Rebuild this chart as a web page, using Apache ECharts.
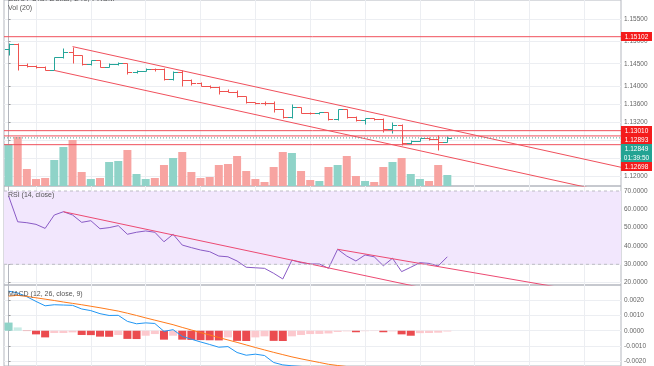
<!DOCTYPE html>
<html><head><meta charset="utf-8">
<script src="https://cdn.jsdelivr.net/npm/echarts@6/dist/echarts.min.js"></script>
<style>html,body{margin:0;padding:0;background:#fff}#c{width:654px;height:366px}</style>
</head><body><div id="c"></div>
<script>
// ---------- data ----------
// OHLC per 4h bar: [open, high, low, close]
const ohlc = [
 [1.14837,1.14954,1.14704,1.14947],[1.14947,1.14954,1.14366,1.14477],[1.14477,1.14506,1.14417,1.14450],
 [1.14450,1.14472,1.14406,1.14424],[1.14424,1.14450,1.14351,1.14366],[1.14366,1.14660,1.14351,1.14660],
 [1.14660,1.14844,1.14638,1.14755],[1.14755,1.14881,1.14512,1.14698],[1.14698,1.14704,1.14483,1.14499],
 [1.14499,1.14587,1.14483,1.14587],[1.14587,1.14594,1.14424,1.14424],[1.14424,1.14512,1.14417,1.14499],
 [1.14499,1.14539,1.14461,1.14506],[1.14506,1.14512,1.14269,1.14313],[1.14313,1.14362,1.14285,1.14344],
 [1.14344,1.14402,1.14329,1.14388],[1.14388,1.14402,1.14329,1.14375],[1.14375,1.14406,1.14130,1.14152],
 [1.14152,1.14329,1.14130,1.14307],[1.14307,1.14366,1.14014,1.14145],[1.14145,1.14163,1.14020,1.14064],
 [1.14064,1.14086,1.13998,1.14014],[1.14014,1.14030,1.13964,1.13982],[1.13982,1.13998,1.13836,1.13887],
 [1.13887,1.13931,1.13865,1.13880],[1.13880,1.13920,1.13761,1.13776],[1.13776,1.13787,1.13615,1.13637],
 [1.13637,1.13655,1.13600,1.13622],[1.13622,1.13666,1.13578,1.13615],[1.13615,1.13673,1.13430,1.13483],
 [1.13483,1.13490,1.13284,1.13306],[1.13306,1.13593,1.13284,1.13527],[1.13527,1.13533,1.13395,1.13408],
 [1.13408,1.13434,1.13379,1.13395],[1.13395,1.13434,1.13379,1.13417],[1.13417,1.13430,1.13246,1.13262],
 [1.13262,1.13483,1.13246,1.13483],[1.13483,1.13500,1.13290,1.13319],[1.13319,1.13334,1.13224,1.13246],
 [1.13246,1.13290,1.13158,1.13284],[1.13284,1.13301,1.13246,1.13279],[1.13279,1.13290,1.12988,1.13041],
 [1.13041,1.13209,1.12966,1.13136],[1.13136,1.13158,1.12694,1.12732],[1.12732,1.12804,1.12705,1.12789],
 [1.12789,1.12856,1.12771,1.12842],[1.12842,1.12860,1.12804,1.12833],[1.12833,1.12915,1.12584,1.12767],
 [1.12767,1.12882,1.12756,1.12849]
];
const volume = [42,49,17,7,8,26,39,46,14,7,8,24,25,36,12,7,8,21,28,34,14,8,9,21,22,30,15,7,4,19,34,33,15,6,5,19,21,30,10,5,4,19,24,28,12,7,5,21,11];
const rsi = [67.3,53.2,52.7,51.8,49.6,56.9,58.7,56.9,52.9,53.8,49.4,50.0,51.1,46.4,47.5,48.2,47.5,42.3,46.4,40.5,39.1,37.8,36.9,34.5,34.1,31.8,28.4,28.1,27.8,25.1,22.0,32.3,30.9,30.2,30.2,27.8,38.2,34.5,31.8,35.1,34.1,29.2,33.3,26.0,28.4,30.9,30.5,29.1,34.1];
const macdLine = [0.00262,0.00250,0.00225,0.00194,0.00165,0.00172,0.00170,0.00168,0.00144,0.00133,0.00113,0.00101,0.00102,0.00062,0.00046,0.00052,0.00048,-0.00004,0.00007,-0.00037,-0.00056,-0.00074,-0.00091,-0.00109,-0.00105,-0.00144,-0.00162,-0.00155,-0.00164,-0.00210,-0.00226,-0.00232,-0.00236,-0.00240,-0.00244,-0.00250,-0.00248,-0.00251,-0.00263,-0.00261,-0.00264,-0.00276,-0.00273,-0.00297,-0.00311,-0.00298,-0.00300,-0.00301,-0.00293];
const signalLine = [0.00229,0.00234,0.00227,0.00218,0.00209,0.00200,0.00190,0.00181,0.00172,0.00162,0.00152,0.00141,0.00130,0.00116,0.00101,0.00085,0.00070,0.00055,0.00040,0.00022,0.00005,-0.00012,-0.00028,-0.00045,-0.00061,-0.00077,-0.00094,-0.00111,-0.00127,-0.00143,-0.00158,-0.00173,-0.00186,-0.00198,-0.00210,-0.00222,-0.00230,-0.00237,-0.00243,-0.00248,-0.00252,-0.00256,-0.00259,-0.00263,-0.00268,-0.00272,-0.00275,-0.00277,-0.00278];
const macdHist = [0.00054,0.00022,-0.00002,-0.00024,-0.00044,-0.00015,-0.00015,-0.00011,-0.00028,-0.00029,-0.00039,-0.00040,-0.00028,-0.00054,-0.00055,-0.00033,-0.00022,-0.00059,-0.00033,-0.00059,-0.00061,-0.00062,-0.00063,-0.00064,-0.00044,-0.00067,-0.00068,-0.00044,-0.00037,-0.00067,-0.00068,-0.00037,-0.00028,-0.00022,-0.00021,-0.00018,-0.00008,-0.00004,-0.00010,-0.00003,-0.00002,-0.00010,-0.00004,-0.00024,-0.00033,-0.00016,-0.00015,-0.00013,-0.00005];

const priceTicks = [1.155,1.150,1.145,1.140,1.136,1.132,1.128,1.124,1.120];
const rsiTicks = [20,30,40,50,60,70];
const macdTicks = [-0.002,-0.001,0,0.001,0.002];
const timeGrid = [3,9,15,21,27,33,39,45,51,57,63];

// drawings
const upperChannel = [[7,1.14881],[67,1.12195]];
const lowerChannel = [[5,1.14351],[67,1.11580]];
const rsiTrend1 = [[6,58.7],[67,-5.8]];
const rsiTrend2 = [[36,38.2],[67,11.6]];
const levels = [1.15102,1.13010,1.12893,1.12698];
const lastPrice = 1.12849;
const countdown = '01:39:50';
const titleText = 'Euro / U.S. Dollar, 240, FXCM';

// ---------- styles ----------
const UP='#26a69a', DN='#ef5350', VUP='#8fd3c8', VDN='#f7a4a1';
const TREND='#f0505c', RSITREND='#ec4a72', TAGRED='#f41c1c', TAGTEAL='#23a393';
const GRID='#eceef2', BORDER='#b4b7bf', LBL='#666';
const FONT='"Liberation Sans", Arial, sans-serif';
const X0=-0.5, X1=67;

const chart = echarts.init(document.getElementById('c'), null, {renderer:'canvas'});

function renderOHLC(params, api){
  const i=api.value(0), o=api.value(1), h=api.value(2), l=api.value(3), c=api.value(4);
  const ph=api.coord([i,h]), pl=api.coord([i,l]), po=api.coord([i,o]), pc=api.coord([i,c]);
  const w=api.size([1,0])[0]*0.5;
  const r=v=>Math.round(v)+0.5;
  const x=r(ph[0]);
  const color = c>o?UP:DN;
  const st={stroke:color,lineWidth:1};
  let y1=r(ph[1]), y2=r(pl[1]); if (y2-y1<1) y2=y1+1;
  return {type:'group',children:[
    {type:'line',shape:{x1:x,y1:y1,x2:x,y2:y2},style:st},
    {type:'line',shape:{x1:x-w,y1:r(po[1]),x2:x,y2:r(po[1])},style:st},
    {type:'line',shape:{x1:x,y1:r(pc[1]),x2:x+w,y2:r(pc[1])},style:st}
  ]};
}

const xBase = {type:'value',min:X0,max:X1,axisLabel:{show:false},axisLine:{show:false},
  axisTick:{show:false,customValues:timeGrid},splitLine:{show:true,lineStyle:{color:GRID,width:1}}};
const yLabel = (dec)=>({fontSize:6.5,color:LBL,fontFamily:FONT,margin:3,formatter:v=>Number(v).toFixed(dec)});

// horizontal level lines as line series across the full pane
const hSeries = (v, xi, yi, style)=>({type:'line',xAxisIndex:xi,yAxisIndex:yi,symbol:'none',z:5,silent:true,
  data:[[X0,v],[X1,v]],lineStyle:style});
const levelSeries = levels.map(v=>hSeries(v,0,0,{color:TREND,width:1}));
levelSeries.push(hSeries(lastPrice,0,0,{color:'#4fa39b',width:1,type:[1,2]}));
const rsiBandSeries = [30,70].map(v=>hSeries(v,1,2,{color:'#bdbdc4',width:1,type:[3,3]}));

const option = {
  animation:false,
  backgroundColor:'#fff',
  grid:[
    {left:4,top:-1,width:617,height:187,show:true,borderColor:BORDER,borderWidth:1},
    {left:4,top:186,width:617,height:99,show:true,borderColor:BORDER,borderWidth:1},
    {left:4,top:285,width:617,height:82,show:true,borderColor:BORDER,borderWidth:1}
  ],
  xAxis:[
    Object.assign({gridIndex:0},xBase),
    Object.assign({gridIndex:1},xBase),
    Object.assign({gridIndex:2},xBase)
  ],
  yAxis:[
    {gridIndex:0,type:'value',position:'right',min:1.11778,max:1.15919,
     axisLine:{show:true,lineStyle:{color:BORDER}},
     axisTick:{show:true,length:2,customValues:priceTicks,lineStyle:{color:'#999'}},
     axisLabel:Object.assign({customValues:priceTicks},yLabel(5)),
     splitLine:{show:true,lineStyle:{color:GRID}}},
    {gridIndex:0,type:'value',min:0,max:186,show:false,splitLine:{show:false},axisLine:{show:false}},
    {gridIndex:1,type:'value',position:'right',min:18.71,max:72.73,
     axisLine:{show:true,lineStyle:{color:BORDER}},
     axisTick:{show:true,length:2,customValues:rsiTicks,lineStyle:{color:'#999'}},
     axisLabel:Object.assign({customValues:rsiTicks},yLabel(4)),
     splitLine:{show:true,lineStyle:{color:GRID}}},
    {gridIndex:2,type:'value',position:'right',min:-0.002333,max:0.003026,
     axisLine:{show:true,lineStyle:{color:BORDER}},
     axisTick:{show:true,length:2,customValues:macdTicks,lineStyle:{color:'#999'}},
     axisLabel:Object.assign({customValues:macdTicks},yLabel(4)),
     splitLine:{show:true,lineStyle:{color:GRID}}}
  ],
  series:[
    {type:'bar',name:'Vol',xAxisIndex:0,yAxisIndex:1,barWidth:8,z:1,
     data:volume.map((v,i)=>({value:[i,v],itemStyle:{color:ohlc[i][3]>ohlc[i][0]?VUP:VDN}}))},
    {type:'custom',name:'EURUSD',xAxisIndex:0,yAxisIndex:0,z:4,renderItem:renderOHLC,
     encode:{x:0,y:[1,2,3,4]},data:ohlc.map((d,i)=>[i].concat(d))},
    {type:'line',name:'upper',xAxisIndex:0,yAxisIndex:0,data:upperChannel,symbol:'none',z:5,
     lineStyle:{color:TREND,width:1}},
    {type:'line',name:'lower',xAxisIndex:0,yAxisIndex:0,data:lowerChannel,symbol:'none',z:5,
     lineStyle:{color:TREND,width:1}},
    {type:'line',name:'RSI',xAxisIndex:1,yAxisIndex:2,symbol:'none',z:4,
     data:rsi.map((v,i)=>[i,v]),lineStyle:{color:'#8a5bc6',width:1},
     markArea:{silent:true,itemStyle:{color:'#f2e7fd'},data:[[{yAxis:30},{yAxis:70}]]}},
    {type:'line',name:'rsiT1',xAxisIndex:1,yAxisIndex:2,data:rsiTrend1,symbol:'none',z:5,lineStyle:{color:RSITREND,width:1}},
    {type:'line',name:'rsiT2',xAxisIndex:1,yAxisIndex:2,data:rsiTrend2,symbol:'none',z:5,lineStyle:{color:RSITREND,width:1}},
    {type:'bar',name:'Hist',xAxisIndex:2,yAxisIndex:3,barWidth:8,z:2,
     data:macdHist.map((v,i)=>{
       let col;
       if (v>=0) col=(i===0||v>=macdHist[i-1])?'#8fd3c8':'#c9ece6';
       else col=(i>0&&v<macdHist[i-1])?'#eb4b4f':'#fcc9ce';
       return {value:[i,v],itemStyle:{color:col}};
     })},
    {type:'line',name:'MACD',xAxisIndex:2,yAxisIndex:3,symbol:'none',z:4,
     data:macdLine.map((v,i)=>[i,v]),lineStyle:{color:'#2196f3',width:1}},
    {type:'line',name:'Signal',xAxisIndex:2,yAxisIndex:3,symbol:'none',z:4,
     data:signalLine.map((v,i)=>[i,v]),lineStyle:{color:'#ff7a1a',width:1}}
  ].concat(levelSeries, rsiBandSeries)
};
chart.setOption(option);

// header texts and right-edge price tags (stacked like the platform does)
const g=[];
const txt=(x,y,t,fs)=>({type:'text',z:50,style:{x:x,y:y,text:t,fontSize:fs,fill:'#555',fontFamily:FONT,verticalAlign:'middle'}});
g.push(txt(8,-1.5,titleText,8));
g.push(txt(8,8,'Vol (20)',7));
g.push(txt(8,195,'RSI (14, close)',7));
g.push(txt(8,294.5,'MACD (12, 26, close, 9)',7));

const tags = levels.map(v=>({v:v,text:v.toFixed(5),bg:TAGRED}));
tags.push({v:lastPrice,text:lastPrice.toFixed(5),bg:TAGTEAL});
tags.push({v:lastPrice,text:countdown,bg:TAGTEAL,after:true});
tags.forEach(t=>{t.y=chart.convertToPixel({yAxisIndex:0},t.v)+(t.after?0.01:0);});
tags.sort((a,b)=>a.y-b.y);
let prev=-100;
tags.forEach(t=>{
  const y=Math.max(t.y,prev+9); prev=y;
  g.push({type:'rect',z:60,shape:{x:621,y:Math.round(y-4.5),width:31,height:9},style:{fill:t.bg}});
  g.push({type:'text',z:61,style:{x:636.5,y:Math.round(y-4.5)+4.8,text:t.text,fontSize:6.5,fill:'#fff',fontFamily:FONT,align:'center',verticalAlign:'middle'}});
});
chart.setOption({graphic:g});
</script></body></html>
